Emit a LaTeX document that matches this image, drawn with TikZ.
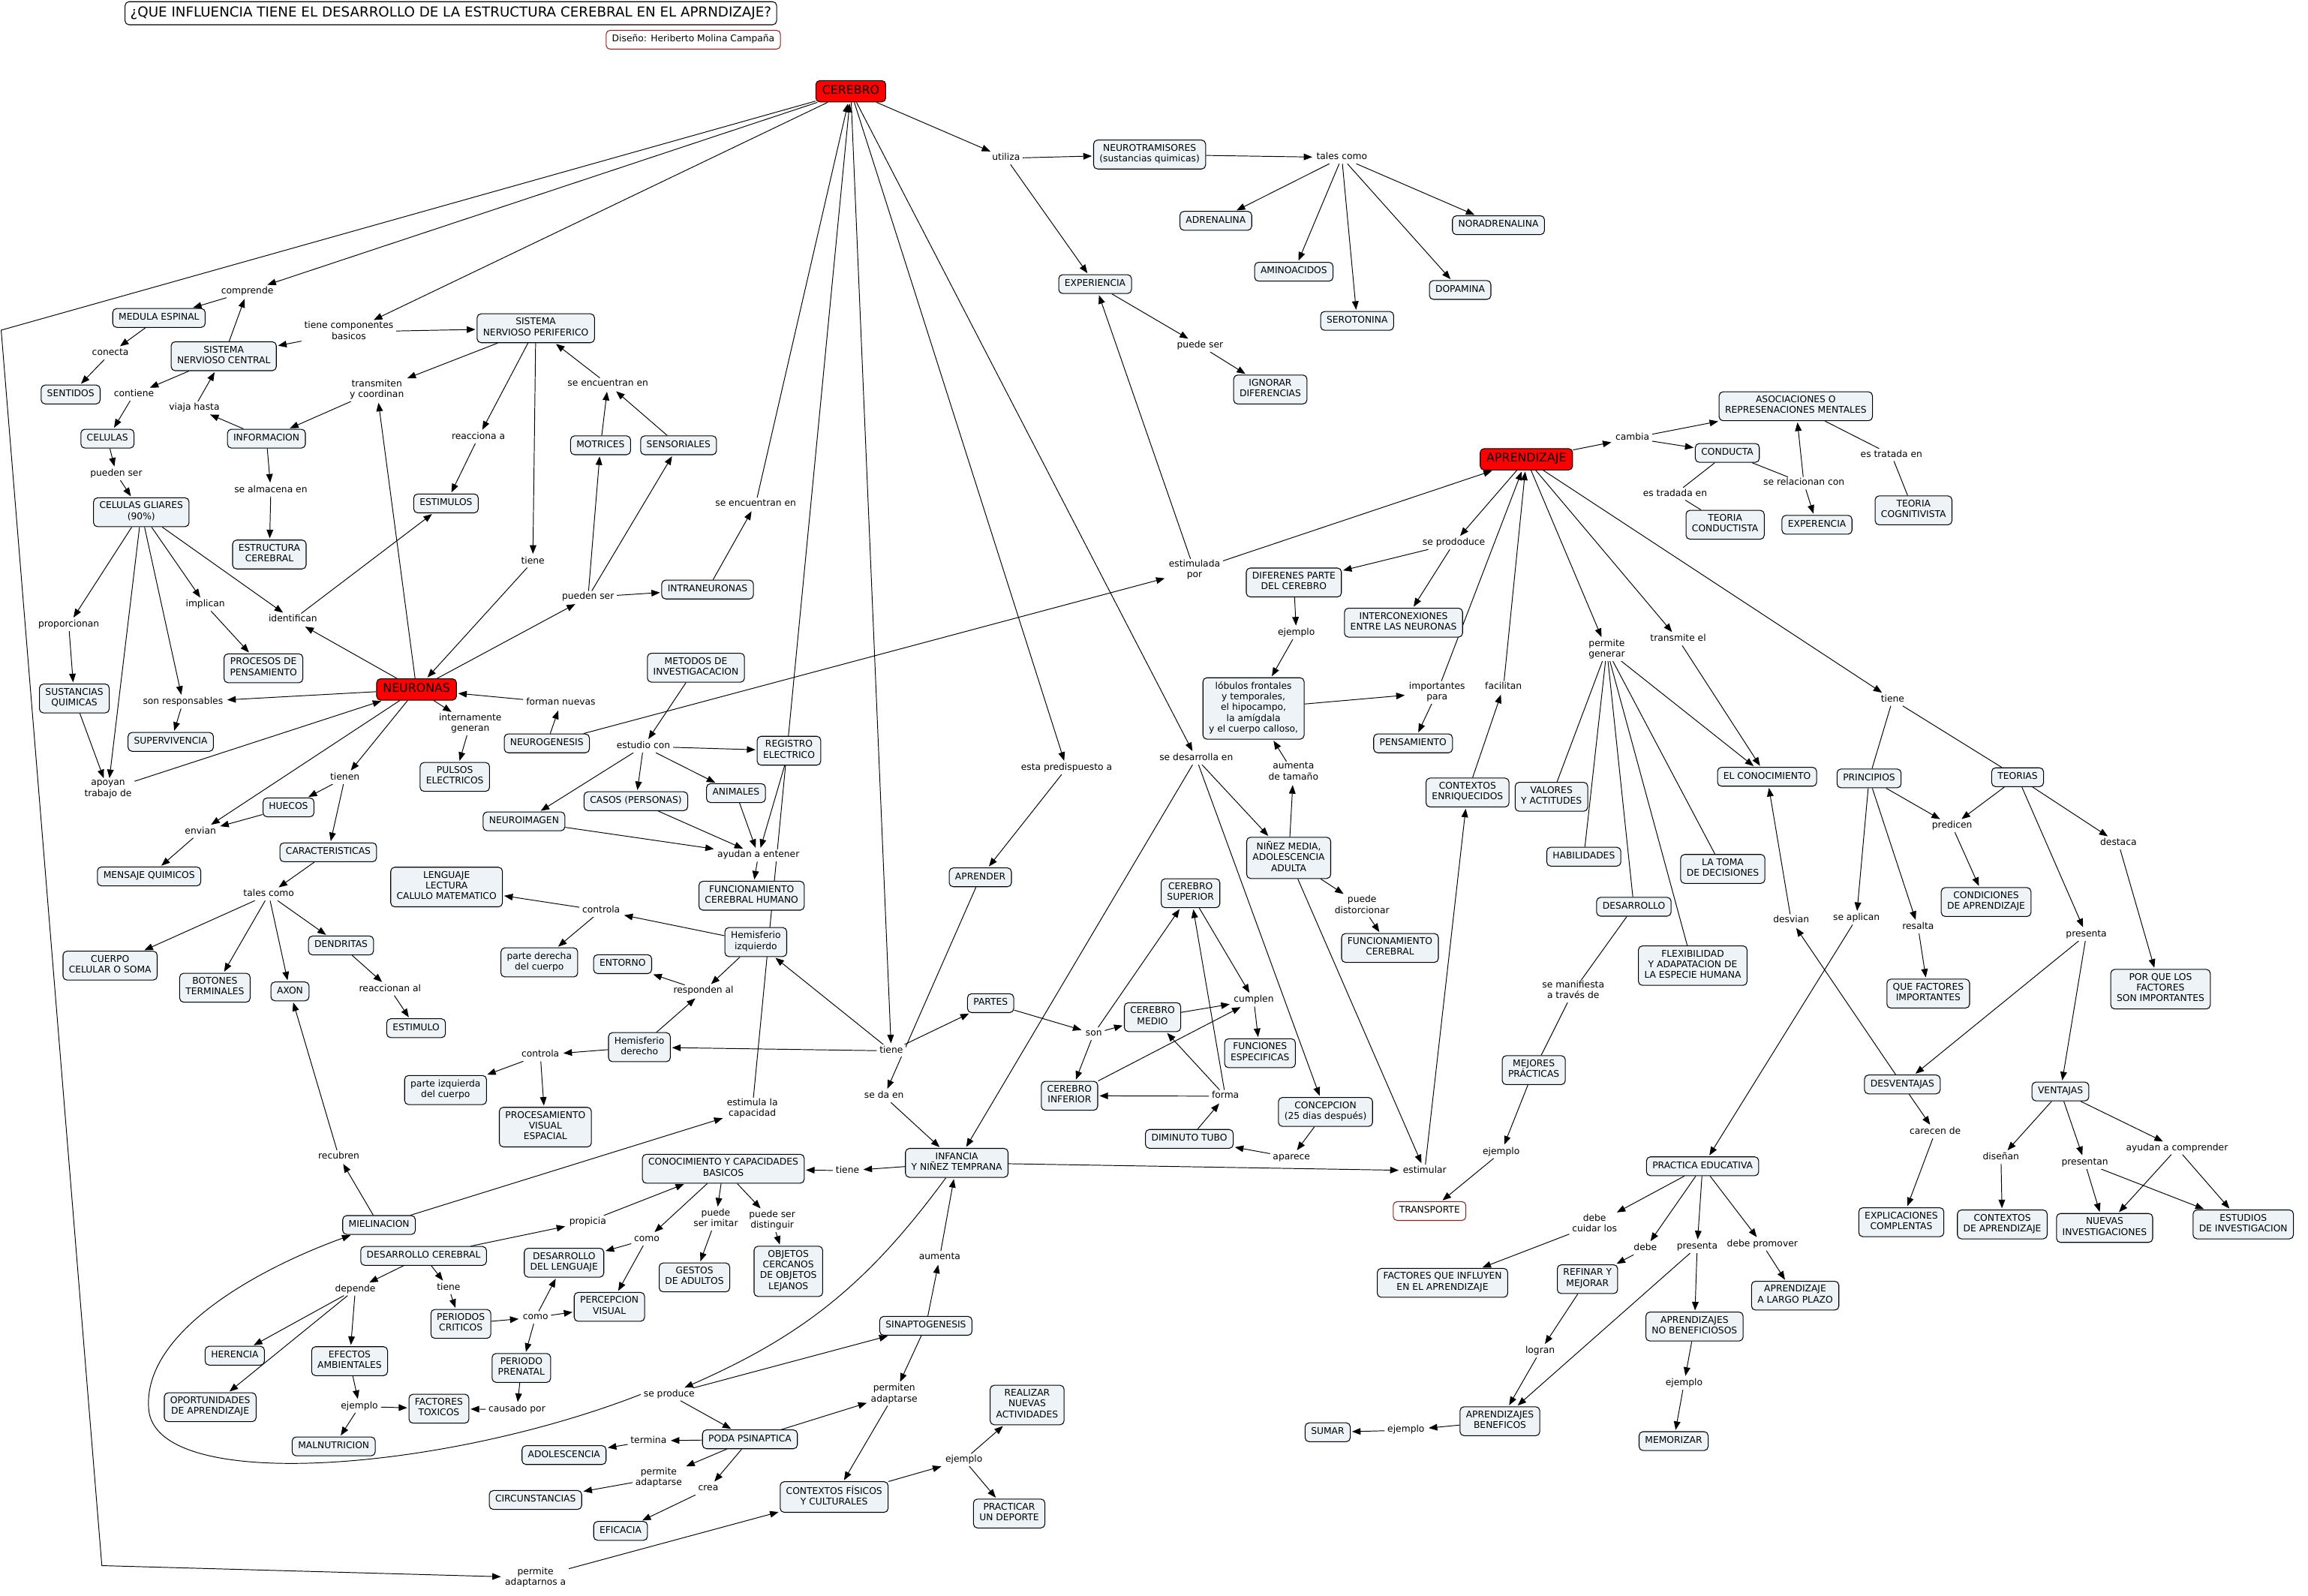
\documentclass[tikz,border=0pt]{standalone}
\usepackage{fontspec}
\setmainfont{DejaVu Sans}
\usetikzlibrary{arrows.meta,backgrounds}
\definecolor{conceptfill}{RGB}{237,243,246}
\definecolor{creditred}{RGB}{150,30,30}
\newcommand{\cmapfont}{\fontsize{7}{8.1}\selectfont}
\newcommand{\hubfont}{\fontsize{9}{10.8}\selectfont}
\newcommand{\questionfont}{\fontsize{10.4}{12.5}\selectfont}
\tikzset{
    cmap diagram/.style = {x=0.03924cm, y=-0.03924cm,
                           >={Triangle[length=6.5pt,width=5pt]}},
    cbox/.style         = {draw, line width=0.6pt, fill=conceptfill,
                           rounded corners=3pt, align=center, font=\cmapfont,
                           inner xsep=4.5pt, inner ysep=3.1pt,
                           execute at begin node=\strut,
                           execute at end node=\strut},
    hub/.style          = {cbox, fill=red, font=\hubfont,
                           inner xsep=4.8pt, inner ysep=2.7pt},
    credit/.style       = {cbox, draw=creditred, fill=white},
    question/.style     = {cbox, fill=white, font=\questionfont,
                           inner xsep=4pt, inner ysep=2.5pt},
    phrase/.style       = {align=center, font=\cmapfont, fill=white,
                           inner xsep=2pt, inner ysep=0.5pt,
                           execute at begin node=\strut,
                           execute at end node=\strut},
    conn/.style         = {line width=0.55pt, ->, shorten >=1pt},
    joint/.style        = {line width=0.55pt}
}

\begin{document}
\begin{tikzpicture}[cmap diagram]
\useasboundingbox (0,0) rectangle (1568,1084);

% ================= Title =================
\node[question] (title) at (306.3, 9) {¿QUE INFLUENCIA TIENE EL DESARROLLO DE LA ESTRUCTURA CEREBRAL EN EL APRNDIZAJE?};
\node[credit] (design) at (471, 27) {Diseño: Heriberto Molina Campaña};

% ================= Main concepts =================
\node[hub] (cerebro) at (578, 62) {CEREBRO};
\node[hub] (neuronas) at (283, 468.4) {NEURONAS};
\node[hub] (aprendizaje) at (1037, 312) {APRENDIZAJE};

% ================= Neurotransmitters =================
\node[phrase] (utiliza) at (683.5, 107.5) {utiliza};
\node[cbox] (neurotrans) at (781, 105) {NEUROTRAMISORES\\(sustancias quimicas)};
\node[phrase] (talescomoA) at (911.6, 107) {tales como};
\node[cbox] (adrenalina) at (826, 150) {ADRENALINA};
\node[cbox] (aminoacidos) at (879, 184.6) {AMINOACIDOS};
\node[cbox] (serotonina) at (922, 218) {SEROTONINA};
\node[cbox] (dopamina) at (992, 197) {DOPAMINA};
\node[cbox] (noradrenalina) at (1018, 153) {NORADRENALINA};
\node[cbox] (experiencia) at (744, 193) {EXPERIENCIA};
\node[phrase] (puedeser) at (815.3, 234.8) {puede ser};
\node[cbox] (ignorar) at (863, 264.6) {IGNORAR\\DIFERENCIAS};

% ================= Nervous system =================
\node[phrase] (comprende) at (168, 198) {comprende};
\node[cbox] (medula) at (108, 216) {MEDULA ESPINAL};
\node[phrase] (tcompbas) at (237, 225.5) {tiene componentes\\basicos};
\node[cbox] (snp) at (364, 223) {SISTEMA\\NERVIOSO PERIFERICO};
\node[cbox] (snc) at (152, 242) {SISTEMA\\NERVIOSO CENTRAL};
\node[phrase] (conecta) at (75, 240) {conecta};
\node[cbox] (sentidos) at (48, 268) {SENTIDOS};
\node[phrase] (contiene) at (91, 268) {contiene};
\node[phrase] (viaja) at (132, 277) {viaja hasta};
\node[cbox] (celulas) at (73, 298) {CELULAS};
\node[cbox] (informacion) at (181, 298) {INFORMACION};
\node[phrase] (transmiten) at (256, 265) {transmiten\\y coordinan};
\node[phrase] (reacciona) at (325, 297) {reacciona a};
\node[phrase] (puedenserA) at (79, 322) {pueden ser};
\node[phrase] (almacena) at (184, 333) {se almacena en};
\node[cbox] (estimulos) at (303, 342) {ESTIMULOS};
\node[cbox] (gliares) at (96, 348) {CELULAS GLIARES\\(90\%)};
\node[cbox] (estructura) at (183, 376.7) {ESTRUCTURA\\CEREBRAL};
\node[phrase] (encuentranA) at (413, 261) {se encuentran en};
\node[cbox] (motrices) at (408, 302.5) {MOTRICES};
\node[cbox] (sensoriales) at (461, 302.5) {SENSORIALES};
\node[phrase] (encuentranB) at (513.4, 342.3) {se encuentran en};
\node[phrase] (tieneA) at (362, 381.4) {tiene};
\node[phrase] (puedenserB) at (399.5, 405.7) {pueden ser};
\node[cbox] (intraneuronas) at (480.7, 400.5) {INTRANEURONAS};

% ================= Glial cells and neurons =================
\node[phrase] (implican) at (139.5, 410.9) {implican};
\node[phrase] (identifican) at (199, 421) {identifican};
\node[phrase] (proporcionan) at (46.7, 424.5) {proporcionan};
\node[cbox] (procesos) at (179, 454) {PROCESOS DE\\PENSAMIENTO};
\node[cbox] (metodos) at (472.8, 453.6) {METODOS DE\\INVESTIGACACION};
\node[cbox] (sustancias) at (50.5, 474.5) {SUSTANCIAS\\QUIMICAS};
\node[phrase] (responsables) at (124.3, 477.1) {son responsables};
\node[phrase] (formannuevas) at (381, 477.6) {forman nuevas};
\node[phrase] (internamente) at (319.5, 491.9) {internamente\\generan};
\node[cbox] (supervivencia) at (116, 504) {SUPERVIVENCIA};
\node[cbox] (neurogenesis) at (371.5, 505) {NEUROGENESIS};
\node[phrase] (estudio) at (437.1, 507.1) {estudio con};
\node[cbox] (registro) at (536, 510) {REGISTRO\\ELECTRICO};
\node[cbox] (pulsos) at (309, 527.8) {PULSOS\\ELECTRICOS};
\node[phrase] (apoyan) at (73.4, 536.6) {apoyan\\trabajo de};
\node[phrase] (tienen) at (234.3, 528.4) {tienen};
\node[cbox] (animales) at (500, 538.8) {ANIMALES};
\node[cbox] (casos) at (432, 544.3) {CASOS (PERSONAS)};
\node[cbox] (huecos) at (196, 548.5) {HUECOS};
\node[cbox] (neuroimagen) at (356, 558) {NEUROIMAGEN};
\node[phrase] (envian) at (136.2, 565) {envian};
\node[cbox] (caracteristicas) at (223, 579) {CARACTERISTICAS};
\node[phrase] (ayudan) at (515.2, 581.1) {ayudan a entener};
\node[cbox] (mensaje) at (101.3, 595.4) {MENSAJE QUIMICOS};
\node[cbox] (lenguaje) at (303.4, 602.6) {LENGUAJE\\LECTURA\\CALULO MATEMATICO};
\node[phrase] (talescomoB) at (182.6, 607.6) {tales como};
\node[cbox] (funchumano) at (510.6, 608.5) {FUNCIONAMIENTO\\CEREBRAL HUMANO};
\node[phrase] (controlaA) at (408.4, 618.6) {controla};
\node[cbox] (hemizq) at (513.5, 640) {Hemisferio\\izquierdo};
\node[cbox] (dendritas) at (231.7, 642.3) {DENDRITAS};
\node[cbox] (soma) at (74.8, 656) {CUERPO\\CELULAR O SOMA};
\node[cbox] (partederecha) at (366.4, 653.8) {parte derecha\\del cuerpo};
\node[cbox] (entorno) at (423, 655) {ENTORNO};
\node[cbox] (botones) at (146, 671) {BOTONES\\TERMINALES};
\node[cbox] (axon) at (197, 673.5) {AXON};
\node[phrase] (responden) at (477.9, 673.4) {responden al};
\node[phrase] (reaccionan) at (265, 672) {reaccionan al};
\node[cbox] (estimulo) at (282.7, 698.5) {ESTIMULO};
\node[cbox] (hemder) at (434.4, 711.4) {Hemisferio\\derecho};
\node[phrase] (controlaB) at (367.1, 716.7) {controla};
\node[phrase] (tieneB) at (605.5, 713.9) {tiene};
\node[cbox] (parteizq) at (302.7, 740.5) {parte izquierda\\del cuerpo};
\node[phrase] (sedaen) at (600.6, 744.7) {se da en};
\node[cbox] (procvisual) at (370.5, 765.7) {PROCESAMIENTO\\VISUAL\\ESPACIAL};
\node[phrase] (estimulacap) at (511.1, 753.4) {estimula la\\capacidad};
\node[phrase] (recubren) at (230.2, 785.7) {recubren};

% ================= Early development =================
\node[cbox] (conocimientob) at (491.4, 794) {CONOCIMIENTO Y CAPACIDADES\\BASICOS};
\node[phrase] (tieneC) at (575.8, 795.3) {tiene};
\node[cbox] (infancia) at (650, 790) {INFANCIA\\Y NIÑEZ TEMPRANA};
\node[cbox] (mielinacion) at (257.5, 832.2) {MIELINACION};
\node[phrase] (propicia) at (399.3, 830) {propicia};
\node[phrase] (imitar) at (486.3, 828.3) {puede\\ser imitar};
\node[phrase] (distinguir) at (524.6, 829.3) {puede ser\\distinguir};
\node[phrase] (comoA) at (439.4, 841.9) {como};
\node[cbox] (desarrollocer) at (287.8, 853.2) {DESARROLLO CEREBRAL};
\node[cbox] (desleng) at (383.2, 857.8) {DESARROLLO\\DEL LENGUAJE};
\node[cbox] (objetos) at (535.6, 863.7) {OBJETOS\\CERCANOS\\DE OBJETOS\\LEJANOS};
\node[cbox] (gestos) at (471.8, 867.8) {GESTOS\\DE ADULTOS};
\node[phrase] (aumentaA) at (638.4, 854.1) {aumenta};
\node[phrase] (depende) at (241.4, 875.9) {depende};
\node[phrase] (tieneD) at (304.8, 874.9) {tiene};
\node[cbox] (percepcion) at (414, 887.8) {PERCEPCION\\VISUAL};
\node[cbox] (periodos) at (313.1, 899.4) {PERIODOS\\CRITICOS};
\node[phrase] (comoB) at (363.8, 895) {como};
\node[cbox] (sinapto) at (629, 900.7) {SINAPTOGENESIS};
\node[cbox] (herencia) at (159.5, 921) {HERENCIA};
\node[cbox] (efectos) at (237.5, 924.7) {EFECTOS\\AMBIENTALES};
\node[cbox] (prenatal) at (354.2, 929.3) {PERIODO\\PRENATAL};
\node[phrase] (seproduce) at (454.6, 947.3) {se produce};
\node[phrase] (permitenadap) at (607.5, 947.3) {permiten\\adaptarse};
\node[cbox] (realizar) at (697.8, 954.5) {REALIZAR\\NUEVAS\\ACTIVIDADES};
\node[cbox] (oportunidades) at (142.8, 956) {OPORTUNIDADES\\DE APRENDIZAJE};
\node[phrase] (ejemploA) at (244.2, 955.5) {ejemplo};
\node[cbox] (toxicos) at (298.2, 957) {FACTORES\\TOXICOS};
\node[phrase] (causado) at (351.2, 957.6) {causado por};
\node[cbox] (malnutricion) at (226.7, 982.6) {MALNUTRICION};
\node[phrase] (termina) at (440.6, 978.9) {termina};
\node[cbox] (poda) at (509.5, 977.8) {PODA PSINAPTICA};
\node[cbox] (adolescencia) at (383.2, 988.5) {ADOLESCENCIA};
\node[phrase] (ejemploB) at (654.9, 991.8) {ejemplo};
\node[phrase] (permiteadap) at (447.5, 1004) {permite\\adaptarse};
\node[phrase] (crea) at (481.2, 1011.4) {crea};
\node[cbox] (circunstancias) at (363.8, 1019) {CIRCUNSTANCIAS};
\node[cbox] (contextosfis) at (566.7, 1017) {CONTEXTOS FÍSICOS\\Y CULTURALES};
\node[cbox] (practicar) at (685.6, 1028.2) {PRACTICAR\\UN DEPORTE};
\node[cbox] (eficacia) at (421.6, 1040) {EFICACIA};
\node[phrase] (adaptarnos) at (363.8, 1071.8) {permite\\adaptarnos a};
\coordinate (cornerA) at (0.8, 224.3);
\coordinate (cornerB) at (69.2, 1063.6);

% ================= Learning =================
\node[phrase] (seprododuce) at (987.7, 369) {se prododuce};
\node[phrase] (cambia) at (1109, 297.6) {cambia};
\node[cbox] (asociaciones) at (1220, 276) {ASOCIACIONES O\\REPRESENACIONES MENTALES};
\node[cbox] (conducta) at (1173.5, 307.7) {CONDUCTA};
\node[phrase] (tratadaA) at (1138, 335.5) {es tradada en};
\node[phrase] (relacionan) at (1225.5, 328.3) {se relacionan con};
\node[phrase] (tratadaB) at (1285, 309) {es tratada en};
\node[cbox] (conductista) at (1172, 356.5) {TEORIA\\CONDUCTISTA};
\node[cbox] (experencia) at (1234.4, 356.5) {EXPERENCIA};
\node[cbox] (cognitivista) at (1300, 346.7) {TEORIA\\COGNITIVISTA};
\node[phrase] (estimulada) at (811.5, 387.5) {estimulada\\por};
\node[cbox] (diferenes) at (879, 395.7) {DIFERENES PARTE\\DEL CEREBRO};
\node[cbox] (interconex) at (953.5, 423) {INTERCONEXIONES\\ENTRE LAS NEURONAS};
\node[phrase] (ejemploC) at (880.7, 430.1) {ejemplo};
\node[phrase] (permitegen) at (1091.6, 441.3) {permite\\generar};
\node[phrase] (transmiteel) at (1140.1, 434.3) {transmite el};
\node[cbox] (lobulos) at (851.6, 481.3) {lóbulos frontales\\y temporales,\\el hipocampo,\\la amígdala\\y el cuerpo calloso,};
\node[phrase] (importantes) at (976.3, 470.4) {importantes\\para};
\node[phrase] (facilitan) at (1021.4, 466.8) {facilitan};
\node[phrase] (tieneE) at (1285.8, 475.3) {tiene};
\node[cbox] (pensamiento) at (960, 505) {PENSAMIENTO};
\node[phrase] (desarrollaen) at (812.7, 515.3) {se desarrolla en};
\node[phrase] (aumentatam) at (878.7, 524.9) {aumenta\\de tamaño};
\node[phrase] (predispuesto) at (724.6, 521.9) {esta predispuesto a};
\node[cbox] (enriquecidos) at (997, 538.4) {CONTEXTOS\\ENRIQUECIDOS};
\node[cbox] (valores) at (1054, 541.3) {VALORES\\Y ACTITUDES};
\node[cbox] (elconoc) at (1200.5, 527.7) {EL CONOCIMIENTO};
\node[cbox] (principios) at (1269.8, 528.8) {PRINCIPIOS};
\node[cbox] (teorias) at (1370.7, 528) {TEORIAS};
\node[phrase] (predicen) at (1326.2, 561.2) {predicen};
\node[phrase] (destaca) at (1439.2, 572.9) {destaca};
\node[cbox] (ninez) at (875.5, 582.8) {NIÑEZ MEDIA,\\ADOLESCENCIA\\ADULTA};
\node[cbox] (habilidades) at (1076, 582) {HABILIDADES};
\node[cbox] (tomadec) at (1170.4, 590.3) {LA TOMA\\DE DECISIONES};
\node[cbox] (aprender) at (666, 596) {APRENDER};
\node[cbox] (cersup) at (808.8, 606.8) {CEREBRO\\SUPERIOR};
\node[phrase] (distorcionar) at (925.3, 615.5) {puede\\distorcionar};
\node[cbox] (condiciones) at (1349.3, 612.8) {CONDICIONES\\DE APRENDIZAJE};
\node[cbox] (desarrollo) at (1110, 616) {DESARROLLO};
\node[cbox] (funccerebral) at (944.3, 644) {FUNCIONAMIENTO\\CEREBRAL};
\node[phrase] (aplican) at (1261.2, 624) {se aplican};
\node[phrase] (desvian) at (1216.9, 625.4) {desvian};
\node[phrase] (resalta) at (1303.1, 630) {resalta};
\node[phrase] (presentaA) at (1417.4, 635) {presenta};
\node[cbox] (flexibilidad) at (1150, 656) {FLEXIBILIDAD\\Y ADAPATACION DE\\LA ESPECIE HUMANA};
\node[cbox] (partes) at (673, 681.5) {PARTES};
\node[phrase] (cumplen) at (851.8, 679.5) {cumplen};
\node[cbox] (cermedio) at (783, 691) {CEREBRO\\MEDIO};
\node[phrase] (son) at (743.1, 702.2) {son};
\node[cbox] (quefactores) at (1310, 675) {QUE FACTORES\\IMPORTANTES};
\node[phrase] (manifiesta) at (1068.8, 673.4) {se manifiesta\\a través de};
\node[cbox] (porque) at (1467.8, 672) {POR QUE LOS\\FACTORES\\SON IMPORTANTES};
\node[cbox] (funciones) at (856, 715.5) {FUNCIONES\\ESPECIFICAS};
\node[cbox] (mejores) at (1042, 727) {MEJORES\\PRÁCTICAS};
\node[cbox] (cerinf) at (726.6, 744.4) {CEREBRO\\INFERIOR};
\node[phrase] (forma) at (832.5, 744.7) {forma};
\node[cbox] (concepcion) at (900.5, 755.4) {CONCEPCION\\(25 dias después)};
\node[cbox] (desventajas) at (1292.4, 736.7) {DESVENTAJAS};
\node[cbox] (ventajas) at (1399.8, 741.5) {VENTAJAS};
\node[cbox] (tubo) at (808, 773.7) {DIMINUTO TUBO};
\node[phrase] (carecen) at (1314.7, 769.1) {carecen de};
\node[phrase] (aparece) at (877.4, 786.4) {aparece};
\node[phrase] (ejemploD) at (1019.9, 782.7) {ejemplo};
\node[phrase] (ayudancomp) at (1479, 780.1) {ayudan a comprender};
\node[cbox] (practica) at (1156.7, 792.3) {PRACTICA EDUCATIVA};
\node[phrase] (estimular) at (967.9, 795.3) {estimular};
\node[phrase] (disenan) at (1359.4, 786.4) {diseñan};
\node[phrase] (presentan) at (1416.4, 789.9) {presentan};
\node[credit] (transporte) at (971.2, 822.7) {TRANSPORTE};
\node[phrase] (cuidar) at (1083.3, 831.8) {debe\\cuidar los};
\node[cbox] (explicaciones) at (1291.7, 830.3) {EXPLICACIONES\\COMPLENTAS};
\node[cbox] (contextosapr) at (1360.3, 831.8) {CONTEXTOS\\DE APRENDIZAJE};
\node[cbox] (nuevas) at (1429.8, 834.2) {NUEVAS\\INVESTIGACIONES};
\node[cbox] (estudios) at (1524, 831.8) {ESTUDIOS\\DE INVESTIGACION};
\node[phrase] (debe) at (1117.8, 848.2) {debe};
\node[phrase] (presentaB) at (1153, 847.1) {presenta};
\node[phrase] (promover) at (1197.3, 845.4) {debe promover};
\node[cbox] (factinfluyen) at (980, 871.5) {FACTORES QUE INFLUYEN\\EN EL APRENDIZAJE};
\node[cbox] (refinar) at (1078.5, 869) {REFINAR Y\\MEJORAR};
\node[cbox] (largoplazo) at (1219.6, 880.2) {APRENDIZAJE\\A LARGO PLAZO};
\node[cbox] (nobenef) at (1151.2, 901.2) {APRENDIZAJES\\NO BENEFICIOSOS};
\node[phrase] (logran) at (1046.3, 918) {logran};
\node[phrase] (ejemploE) at (1144.1, 939.8) {ejemplo};
\node[cbox] (benef) at (1019, 965.5) {APRENDIZAJES\\BENEFICOS};
\node[phrase] (ejemploF) at (955.2, 971.6) {ejemplo};
\node[cbox] (sumar) at (902, 973) {SUMAR};
\node[cbox] (memorizar) at (1137, 979) {MEMORIZAR};

% ================= Connectors =================
\begin{scope}[on background layer]
% cerebro
\draw[conn] (cerebro) -- (comprende);
\draw[conn] (cerebro) -- (tcompbas);
\draw[conn] (cerebro) -- (cornerA) -- (cornerB) -- (adaptarnos);
\draw[conn] (cerebro) -- (utiliza);
\draw[conn] (cerebro) -- (tieneB);
\draw[conn] (cerebro) -- (predispuesto);
\draw[conn] (cerebro) -- (desarrollaen);
\draw[conn] (encuentranB) -- (cerebro);
\draw[conn] (estimulacap) -- (cerebro);
\draw[conn] (utiliza) -- (neurotrans);
\draw[conn] (utiliza) -- (experiencia);
\draw[conn] (neurotrans) -- (talescomoA);
\draw[conn] (talescomoA) -- (adrenalina);
\draw[conn] (talescomoA) -- (aminoacidos);
\draw[conn] (talescomoA) -- (serotonina);
\draw[conn] (talescomoA) -- (dopamina);
\draw[conn] (talescomoA) -- (noradrenalina);
\draw[conn] (experiencia) -- (puedeser);
\draw[conn] (puedeser) -- (ignorar);
\draw[conn] (estimulada) -- (experiencia);
\draw[conn] (neurogenesis) -- (estimulada);
\draw[conn] (estimulada) -- (aprendizaje);

% nervous system
\draw[conn] (tcompbas) -- (snc);
\draw[conn] (tcompbas) -- (snp);
\draw[conn] (snc) -- (comprende);
\draw[conn] (comprende) -- (medula);
\draw[conn] (medula) -- (conecta);
\draw[conn] (conecta) -- (sentidos);
\draw[conn] (snc) -- (contiene);
\draw[conn] (contiene) -- (celulas);
\draw[conn] (informacion) -- (viaja);
\draw[conn] (viaja) -- (snc);
\draw[conn] (informacion) -- (almacena);
\draw[conn] (almacena) -- (estructura);
\draw[conn] (celulas) -- (puedenserA);
\draw[conn] (puedenserA) -- (gliares);
\draw[conn] (snp) -- (transmiten);
\draw[conn] (neuronas) -- (transmiten);
\draw[conn] (transmiten) -- (informacion);
\draw[conn] (snp) -- (reacciona);
\draw[conn] (reacciona) -- (estimulos);
\draw[conn] (snp) -- (tieneA);
\draw[conn] (tieneA) -- (neuronas);
\draw[conn] (encuentranA) -- (snp);
\draw[conn] (motrices) -- (encuentranA);
\draw[conn] (sensoriales) -- (encuentranA);
\draw[conn] (neuronas) -- (puedenserB);
\draw[conn] (puedenserB) -- (motrices);
\draw[conn] (puedenserB) -- (sensoriales);
\draw[conn] (puedenserB) -- (intraneuronas);
\draw[conn] (intraneuronas) -- (encuentranB);

% glial cells
\draw[conn] (gliares) -- (proporcionan);
\draw[conn] (proporcionan) -- (sustancias);
\draw[conn] (sustancias) -- (apoyan);
\draw[conn] (gliares) -- (apoyan);
\draw[conn] (gliares) -- (responsables);
\draw[conn] (responsables) -- (supervivencia);
\draw[conn] (gliares) -- (implican);
\draw[conn] (implican) -- (procesos);
\draw[conn] (gliares) -- (identifican);
\draw[conn] (neuronas) -- (identifican);
\draw[conn] (identifican) -- (estimulos);
\draw[conn] (apoyan) -- (neuronas);
\draw[conn] (neuronas) -- (responsables);

% neurons
\draw[conn] (neuronas) -- (envian);
\draw[conn] (neuronas) -- (tienen);
\draw[conn] (tienen) -- (huecos);
\draw[conn] (tienen) -- (caracteristicas);
\draw[conn] (huecos) -- (envian);
\draw[conn] (envian) -- (mensaje);
\draw[conn] (caracteristicas) -- (talescomoB);
\draw[conn] (talescomoB) -- (soma);
\draw[conn] (talescomoB) -- (botones);
\draw[conn] (talescomoB) -- (axon);
\draw[conn] (talescomoB) -- (dendritas);
\draw[conn] (dendritas) -- (reaccionan);
\draw[conn] (reaccionan) -- (estimulo);
\draw[conn] (neuronas) -- (internamente);
\draw[conn] (internamente) -- (pulsos);
\draw[conn] (neurogenesis) -- (formannuevas);
\draw[conn] (formannuevas) -- (neuronas);

% research methods
\draw[conn] (metodos) -- (estudio);
\draw[conn] (estudio) -- (registro);
\draw[conn] (estudio) -- (animales);
\draw[conn] (estudio) -- (casos);
\draw[conn] (estudio) -- (neuroimagen);
\draw[conn] (neuroimagen) -- (ayudan);
\draw[conn] (casos) -- (ayudan);
\draw[conn] (animales) -- (ayudan);
\draw[conn] (registro) -- (ayudan);
\draw[conn] (ayudan) -- (funchumano);

% hemispheres
\draw[conn] (hemizq) -- (controlaA);
\draw[conn] (controlaA) -- (lenguaje);
\draw[conn] (controlaA) -- (partederecha);
\draw[conn] (hemizq) -- (responden);
\draw[conn] (hemder) -- (responden);
\draw[conn] (responden) -- (entorno);
\draw[conn] (hemder) -- (controlaB);
\draw[conn] (controlaB) -- (parteizq);
\draw[conn] (controlaB) -- (procvisual);
\draw[conn] (tieneB) -- (hemizq);
\draw[conn] (tieneB) -- (hemder);
\draw[conn] (tieneB) -- (partes);

% brain parts
\draw[conn] (partes) -- (son);
\draw[conn] (son) -- (cermedio);
\draw[conn] (son) -- (cersup);
\draw[conn] (son) -- (cerinf);
\draw[conn] (cerinf) -- (cumplen);
\draw[conn] (cermedio) -- (cumplen);
\draw[conn] (cersup) -- (cumplen);
\draw[conn] (cumplen) -- (funciones);
\draw[conn] (tubo) -- (forma);
\draw[conn] (forma) -- (cerinf);
\draw[conn] (forma) -- (cermedio);
\draw[conn] (forma) -- (cersup);

% development stages
\draw[conn] (predispuesto) -- (aprender);
\draw[conn] (aprender) -- (sedaen);
\draw[conn] (sedaen) -- (infancia);
\draw[conn] (desarrollaen) -- (infancia);
\draw[conn] (desarrollaen) -- (ninez);
\draw[conn] (desarrollaen) -- (concepcion);
\draw[conn] (ninez) -- (aumentatam);
\draw[conn] (aumentatam) -- (lobulos);
\draw[conn] (ninez) -- (distorcionar);
\draw[conn] (distorcionar) -- (funccerebral);
\draw[conn] (ninez) -- (estimular);
\draw[conn] (infancia) -- (estimular);
\draw[conn] (estimular) -- (enriquecidos);
\draw[conn] (enriquecidos) -- (facilitan);
\draw[conn] (facilitan) -- (aprendizaje);
\draw[conn] (concepcion) -- (aparece);
\draw[conn] (aparece) -- (tubo);

% learning
\draw[conn] (aprendizaje) -- (seprododuce);
\draw[conn] (seprododuce) -- (diferenes);
\draw[conn] (seprododuce) -- (interconex);
\draw[conn] (diferenes) -- (ejemploC);
\draw[conn] (ejemploC) -- (lobulos);
\draw[conn] (lobulos) -- (importantes);
\draw[conn] (importantes) -- (pensamiento);
\draw[conn] (importantes) -- (aprendizaje);
\draw[conn] (aprendizaje) -- (permitegen);
\draw[conn] (aprendizaje) -- (transmiteel);
\draw[conn] (aprendizaje) -- (tieneE);
\draw[conn] (aprendizaje) -- (cambia);
\draw[conn] (cambia) -- (asociaciones);
\draw[conn] (cambia) -- (conducta);
\draw[joint] (conducta) -- (tratadaA) -- (conductista);
\draw[joint] (conducta) -- (relacionan);
\draw[conn] (relacionan) -- (asociaciones);
\draw[conn] (relacionan) -- (experencia);
\draw[joint] (asociaciones) -- (tratadaB) -- (cognitivista);
\draw[joint] (permitegen) -- (valores);
\draw[joint] (permitegen) -- (habilidades);
\draw[joint] (permitegen) -- (desarrollo);
\draw[joint] (permitegen) -- (tomadec);
\draw[joint] (permitegen) -- (flexibilidad);
\draw[conn] (permitegen) -- (elconoc);
\draw[conn] (transmiteel) -- (elconoc);
\draw[joint] (desarrollo) -- (manifiesta) -- (mejores);
\draw[conn] (mejores) -- (ejemploD);
\draw[conn] (ejemploD) -- (transporte);
\draw[joint] (tieneE) -- (principios);
\draw[joint] (tieneE) -- (teorias);
\draw[conn] (principios) -- (predicen);
\draw[conn] (teorias) -- (predicen);
\draw[conn] (predicen) -- (condiciones);
\draw[conn] (principios) -- (aplican);
\draw[conn] (aplican) -- (practica);
\draw[conn] (principios) -- (resalta);
\draw[conn] (resalta) -- (quefactores);
\draw[conn] (teorias) -- (destaca);
\draw[conn] (destaca) -- (porque);
\draw[conn] (teorias) -- (presentaA);
\draw[conn] (presentaA) -- (desventajas);
\draw[conn] (presentaA) -- (ventajas);
\draw[conn] (desventajas) -- (desvian);
\draw[conn] (desvian) -- (elconoc);
\draw[conn] (desventajas) -- (carecen);
\draw[conn] (carecen) -- (explicaciones);
\draw[conn] (ventajas) -- (disenan);
\draw[conn] (disenan) -- (contextosapr);
\draw[conn] (ventajas) -- (presentan);
\draw[conn] (presentan) -- (nuevas);
\draw[conn] (presentan) -- (estudios);
\draw[conn] (ventajas) -- (ayudancomp);
\draw[conn] (ayudancomp) -- (nuevas);
\draw[conn] (ayudancomp) -- (estudios);

% educational practice
\draw[conn] (practica) -- (cuidar);
\draw[conn] (cuidar) -- (factinfluyen);
\draw[conn] (practica) -- (debe);
\draw[conn] (debe) -- (refinar);
\draw[conn] (practica) -- (presentaB);
\draw[conn] (presentaB) -- (nobenef);
\draw[conn] (presentaB) -- (benef);
\draw[conn] (practica) -- (promover);
\draw[conn] (promover) -- (largoplazo);
\draw[conn] (refinar) -- (logran);
\draw[conn] (logran) -- (benef);
\draw[conn] (nobenef) -- (ejemploE);
\draw[conn] (ejemploE) -- (memorizar);
\draw[conn] (benef) -- (ejemploF);
\draw[conn] (ejemploF) -- (sumar);

% childhood
\draw[conn] (infancia) -- (tieneC);
\draw[conn] (tieneC) -- (conocimientob);
\draw[conn] (conocimientob) -- (comoA);
\draw[conn] (comoA) -- (desleng);
\draw[conn] (comoA) -- (percepcion);
\draw[conn] (conocimientob) -- (imitar);
\draw[conn] (imitar) -- (gestos);
\draw[conn] (conocimientob) -- (distinguir);
\draw[conn] (distinguir) -- (objetos);
\draw[conn] (desarrollocer) -- (propicia);
\draw[conn] (propicia) -- (conocimientob);
\draw[conn] (desarrollocer) -- (depende);
\draw[conn] (depende) -- (herencia);
\draw[conn] (depende) -- (oportunidades);
\draw[conn] (depende) -- (efectos);
\draw[conn] (desarrollocer) -- (tieneD);
\draw[conn] (tieneD) -- (periodos);
\draw[conn] (periodos) -- (comoB);
\draw[conn] (comoB) -- (desleng);
\draw[conn] (comoB) -- (percepcion);
\draw[conn] (comoB) -- (prenatal);
\draw[conn] (prenatal) -- (causado);
\draw[conn] (causado) -- (toxicos);
\draw[conn] (efectos) -- (ejemploA);
\draw[conn] (ejemploA) -- (toxicos);
\draw[conn] (ejemploA) -- (malnutricion);
\draw[conn] (infancia) to[bend left=15] (seproduce);
\draw[conn] (seproduce) -- (sinapto);
\draw[conn] (seproduce) -- (poda);
\draw[conn] (seproduce.west) .. controls (300,1000) and (105,1015) .. (101,957)
                             .. controls (97,905) and (175,862) .. (mielinacion);
\draw[conn] (sinapto) -- (aumentaA);
\draw[conn] (aumentaA) -- (infancia);
\draw[conn] (sinapto) -- (permitenadap);
\draw[conn] (permitenadap) -- (contextosfis);
\draw[conn] (poda) -- (permitenadap);
\draw[conn] (poda) -- (termina);
\draw[conn] (termina) -- (adolescencia);
\draw[conn] (poda) -- (permiteadap);
\draw[conn] (permiteadap) -- (circunstancias);
\draw[conn] (poda) -- (crea);
\draw[conn] (crea) -- (eficacia);
\draw[conn] (contextosfis) -- (ejemploB);
\draw[conn] (ejemploB) -- (realizar);
\draw[conn] (ejemploB) -- (practicar);
\draw[conn] (adaptarnos) -- (contextosfis);
\draw[conn] (mielinacion) -- (estimulacap);
\draw[conn] (mielinacion) -- (recubren);
\draw[conn] (recubren) -- (axon);
\end{scope}

\end{tikzpicture}
\end{document}
